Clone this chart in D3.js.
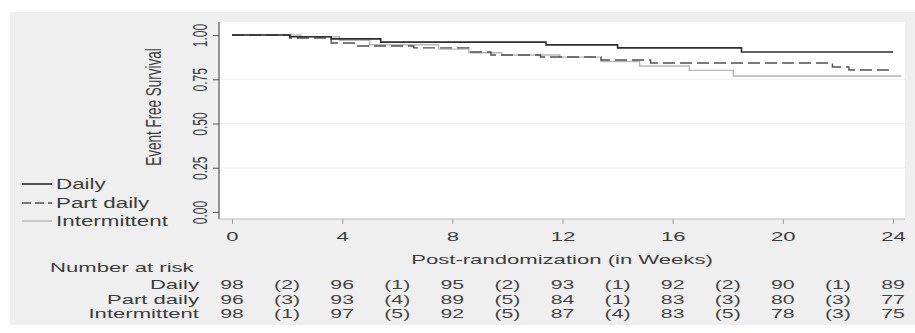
<!DOCTYPE html>
<html>
<head>
<meta charset="utf-8">
<script src="https://cdn.jsdelivr.net/npm/d3@7"></script>
<style>
  html, body { margin: 0; padding: 0; background: #fff; }
  svg { display: block; font-family: "Liberation Sans", Arial, sans-serif; }
</style>
</head>
<body>
<svg id="chart" width="915" height="333"></svg>
<script>
// ---- data ----
const xTicks = [0, 4, 8, 12, 16, 20, 24];
const yTicks = [0, 0.25, 0.5, 0.75, 1.0];
const yTickLabels = ["0.00", "0.25", "0.50", "0.75", "1.00"];
const groups = ["Daily", "Part daily", "Intermittent"];

const dailyTime = [0, 2.1, 3.6, 5.4, 11.4, 14.0, 18.5, 24.0];
const dailySurv = [1.00, 0.99, 0.978, 0.96, 0.944, 0.927, 0.904, 0.904];

const partTime = [0, 2.1, 3.6, 4.5, 6.6, 8.6, 9.4, 11.2, 13.4, 15.2, 21.8, 22.4, 24.0];
const partSurv = [1.00, 0.983, 0.955, 0.938, 0.927, 0.904, 0.887, 0.876, 0.859, 0.842, 0.819, 0.802, 0.802];

const intTime = [0, 2.5, 3.9, 5.0, 7.5, 8.6, 9.8, 11.9, 13.4, 14.8, 16.6, 18.2, 24.3];
const intSurv = [1.00, 0.99, 0.97, 0.945, 0.92, 0.90, 0.887, 0.875, 0.85, 0.825, 0.80, 0.768, 0.768];

const riskDaily = [98, 96, 95, 93, 92, 90, 89];
const censDaily = [2, 1, 2, 1, 2, 1];
const riskPart = [96, 93, 89, 84, 83, 80, 77];
const censPart = [3, 4, 5, 1, 3, 3];
const riskInt = [98, 97, 92, 87, 83, 78, 75];
const censInt = [1, 5, 5, 4, 5, 3];

// ---- layout ----
const SX = 1.7; // horizontal glyph stretch seen in the reference
const TXT = "#3c3c3c";
const svg = d3.select("#chart");
const plot = { left: 219, right: 905, top: 22, bottom: 219 };
const x = d3.scaleLinear().domain([0, 24]).range([232, 893]);
const y = d3.scaleLinear().domain([0, 1]).range([212, 35]);

// backgrounds
svg.append("rect").attr("x", 10).attr("y", 12).attr("width", 905).attr("height", 313).attr("fill", "#efefef");
svg.append("rect").attr("x", plot.left).attr("y", plot.top)
  .attr("width", plot.right - plot.left).attr("height", plot.bottom - plot.top).attr("fill", "#ffffff");

// faint grid
svg.append("g").selectAll("line").data([0.25, 0.5, 0.75]).join("line")
  .attr("x1", plot.left).attr("x2", plot.right)
  .attr("y1", d => y(d)).attr("y2", d => y(d))
  .attr("stroke", "#f0f0f0").attr("stroke-width", 1);

function label(g, px, py, str, opts = {}) {
  const size = opts.size || 13, anchor = opts.anchor || "start", rot = opts.rotate || 0;
  const sx = opts.sx || SX;
  const t = g.append("g").attr("transform", `translate(${px},${py}) scale(${sx},1)` + (rot ? ` rotate(${rot})` : ""));
  t.append("text").attr("x", 0).attr("y", 0)
    .attr("text-anchor", anchor).attr("dominant-baseline", "central")
    .attr("font-size", size).attr("fill", opts.fill || TXT).text(str);
  return t;
}

// y axis
const yAxis = svg.append("g").attr("transform", `translate(${plot.left},0)`)
  .call(d3.axisLeft(y).tickValues(yTicks).tickSize(6).tickFormat((d, i) => yTickLabels[i]));
yAxis.select(".domain").remove();
yAxis.selectAll(".tick line").attr("stroke", "#555");
yAxis.selectAll(".tick text")
  .attr("x", 0).attr("dy", null).attr("y", 0)
  .attr("text-anchor", "middle").attr("dominant-baseline", "central")
  .attr("font-size", 12).attr("fill", TXT)
  .attr("font-family", "Liberation Sans, Arial, sans-serif")
  .attr("transform", `translate(-19,0) scale(${SX},1) rotate(-90)`);
svg.append("line").attr("x1", plot.left).attr("x2", plot.left).attr("y1", plot.top).attr("y2", plot.bottom)
  .attr("stroke", "#555").attr("stroke-width", 1.2);

// x axis
const xAxis = svg.append("g").attr("transform", `translate(0,${plot.bottom})`)
  .call(d3.axisBottom(x).tickValues(xTicks).tickSize(5).tickFormat(d3.format("d")));
xAxis.select(".domain").remove();
xAxis.selectAll(".tick line").attr("stroke", "#999");
xAxis.selectAll(".tick text")
  .attr("y", 0).attr("dy", null).attr("dominant-baseline", "central")
  .attr("font-size", 13).attr("fill", TXT)
  .attr("font-family", "Liberation Sans, Arial, sans-serif")
  .attr("transform", `translate(0,18) scale(${SX},1)`);
svg.append("line").attr("x1", plot.left).attr("x2", plot.right).attr("y1", plot.bottom).attr("y2", plot.bottom)
  .attr("stroke", "#bbbbbb").attr("stroke-width", 1.2);

// axis titles
label(svg, 153, 107, "Event Free Survival", { size: 13.5, anchor: "middle", rotate: -90 });
label(svg, 562, 260, "Post-randomization (in Weeks)", { size: 13, anchor: "middle" });

// curves
const line = d3.line().x(d => x(d[0])).y(d => y(d[1])).curve(d3.curveStepAfter);
const series = [
  { name: "Intermittent", t: intTime, s: intSurv, color: "#b8b8b8", w: 1.4, dash: null },
  { name: "Part daily", t: partTime, s: partSurv, color: "#505050", w: 1.4, dash: "12,5" },
  { name: "Daily", t: dailyTime, s: dailySurv, color: "#2e2e2e", w: 1.6, dash: null }
];
series.forEach(sr => {
  svg.append("path").datum(sr.t.map((t, i) => [t, sr.s[i]]))
    .attr("d", line).attr("fill", "none")
    .attr("stroke", sr.color).attr("stroke-width", sr.w)
    .attr("stroke-dasharray", sr.dash);
});

// legend
const legY = [184, 203, 221];
const legStyle = [
  { color: "#2e2e2e", w: 1.6, dash: null },
  { color: "#505050", w: 1.4, dash: "9,4" },
  { color: "#b8b8b8", w: 1.4, dash: null }
];
groups.forEach((g, i) => {
  svg.append("line").attr("x1", 22).attr("x2", 52).attr("y1", legY[i]).attr("y2", legY[i])
    .attr("stroke", legStyle[i].color).attr("stroke-width", legStyle[i].w)
    .attr("stroke-dasharray", legStyle[i].dash);
  label(svg, 56, legY[i], g, { size: 14, sx: 1.6 });
});

// number at risk table
label(svg, 50, 268, "Number at risk", { size: 13 });
const rowY = [285, 299.5, 314];
const risks = [riskDaily, riskPart, riskInt];
const cens = [censDaily, censPart, censInt];
groups.forEach((g, i) => {
  label(svg, 199, rowY[i], g, { size: 13, anchor: "end" });
  risks[i].forEach((n, j) => label(svg, x(xTicks[j]), rowY[i], String(n), { size: 12.5, anchor: "middle", fill: "#444" }));
  cens[i].forEach((c, j) => label(svg, x((xTicks[j] + xTicks[j + 1]) / 2), rowY[i], `(${c})`, { size: 12.5, anchor: "middle", fill: "#444" }));
});
</script>
</body>
</html>
